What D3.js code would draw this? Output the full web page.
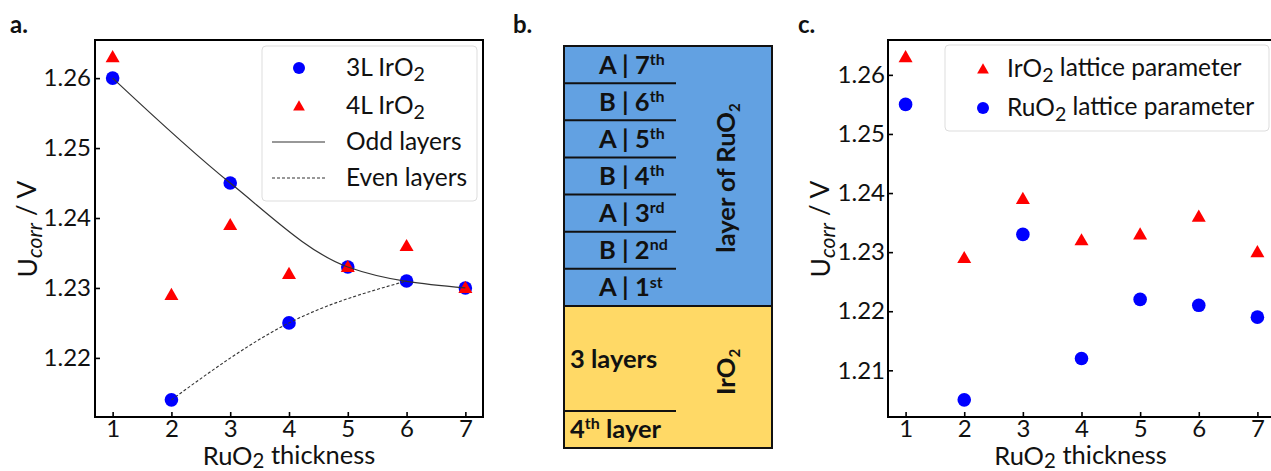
<!DOCTYPE html>
<html>
<head>
<meta charset="utf-8">
<script src="https://cdn.jsdelivr.net/npm/d3@7"></script>
<style>
  body { margin: 0; background: #fff; }
  svg { font-family: Lato, "Open Sans", sans-serif; }
</style>
</head>
<body>
<div id="chart"></div>
<script>
// Data
const thickness = [1, 2, 3, 4, 5, 6, 7];
const ir3L = [1.260, 1.214, 1.245, 1.225, 1.233, 1.231, 1.230];
const ir4L = [1.263, 1.229, 1.239, 1.232, 1.233, 1.236, 1.230];
const irLattice = [1.263, 1.229, 1.239, 1.232, 1.233, 1.236, 1.230];
const ruLattice = [1.255, 1.205, 1.233, 1.212, 1.222, 1.221, 1.219];
const yTicksA = [1.22, 1.23, 1.24, 1.25, 1.26];
const yTicksC = [1.21, 1.22, 1.23, 1.24, 1.25, 1.26];
const ruLayers = [["A", "7", "th"], ["B", "6", "th"], ["A", "5", "th"], ["B", "4", "th"],
                  ["A", "3", "rd"], ["B", "2", "nd"], ["A", "1", "st"]];

const W = 1271, H = 471;
const svg = d3.select("#chart").append("svg")
    .attr("width", W).attr("height", H);

const BLUE = "#0000ff", RED = "#ff0000";
const TICK_FS = 24, LABEL_FS = 25.5, LEG_FS = 24.5, B_FS = 25.5;

// text with a subscript "2" (matplotlib mathtext style)
function subText(sel, parts) {
    parts.forEach(p => {
        const t = sel.append("tspan").text(p.t);
        if (p.sub) t.attr("font-size", p.size || "0.8em").attr("dy", p.dy || "0.25em");
        if (p.back) t.attr("dy", p.back);
        if (p.italic) t.attr("font-style", "italic");
    });
}

// set up an axes panel (a or c)
function panel(xRange, yDomain, yTicks, opts) {
    const x = d3.scaleLinear().domain([0.7, 7.3]).range(xRange);
    const y = d3.scaleLinear().domain(yDomain).range([417, 40]);
    const g = svg.append("g");

    g.append("g")
        .attr("transform", "translate(0,417)")
        .call(d3.axisBottom(x).tickValues(thickness).tickFormat(d3.format("d"))
            .tickSizeInner(-5).tickSizeOuter(0).tickPadding(3))
        .call(a => a.select(".domain").remove())
        .call(a => a.selectAll("line").attr("stroke-width", 1.6))
        .call(a => a.selectAll("text").attr("font-size", TICK_FS).attr("fill", "#111").attr("font-family", "Lato"));

    g.append("g")
        .attr("transform", `translate(${xRange[0]},0)`)
        .call(d3.axisLeft(y).tickValues(yTicks).tickFormat(d3.format(".2f"))
            .tickSizeInner(-5).tickSizeOuter(0).tickPadding(opts.yPad))
        .call(a => a.select(".domain").remove())
        .call(a => a.selectAll("line").attr("stroke-width", 1.6))
        .call(a => a.selectAll("text").attr("font-size", TICK_FS).attr("fill", "#111").attr("font-family", "Lato"));

    // frame
    const x0 = xRange[0], x1 = xRange[1];
    g.append("path")
        .attr("d", opts.closed
            ? `M${x0},40H${x1}V417H${x0}Z`
            : `M${x1},40H${x0}V417H${x1}`)
        .attr("fill", "none").attr("stroke", "#000").attr("stroke-width", 2);

    // axis labels
    const xl = g.append("text")
        .attr("x", (x0 + Math.min(x1, W)) / 2 + opts.xLabelShift).attr("y", 465)
        .attr("text-anchor", "middle").attr("font-size", LABEL_FS).attr("fill", "#111");
    subText(xl, [{ t: "RuO" }, { t: "2", sub: true, dy: "0.16em" }, { t: " thickness", back: "-0.16em" }]);

    const yl = g.append("text")
        .attr("transform", `translate(${opts.yLabelX},229) rotate(-90)`)
        .attr("text-anchor", "middle").attr("font-size", 26.5).attr("fill", "#111");
    subText(yl, [{ t: "U" }, { t: "corr", sub: true, italic: true }, { t: " / V", back: "-0.25em" }]);

    return { g, x, y };
}

// ---------- panel a ----------
const A = panel([95, 483], [1.21155, 1.26545], yTicksA, { closed: true, yPad: 4, yLabelX: 37, xLabelShift: 0 });

const dotsA = thickness.map((t, i) => ({ t, v: ir3L[i] }));
const triA = thickness.map((t, i) => ({ t, v: ir4L[i] }));

A.g.selectAll("circle.d").data(dotsA).enter().append("circle")
    .attr("cx", d => A.x(d.t)).attr("cy", d => A.y(d.v)).attr("r", 6.8).attr("fill", BLUE);
A.g.selectAll("path.tri").data(triA).enter().append("path")
    .attr("d", d3.symbol(d3.symbolTriangle, 85))
    .attr("transform", d => `translate(${A.x(d.t)},${A.y(d.v) + 1})`)
    .attr("fill", RED);

const lineA = d3.line().x(d => A.x(d.t)).y(d => A.y(d.v)).curve(d3.curveMonotoneX);
A.g.append("path").datum(dotsA.filter(d => d.t % 2 === 1))
    .attr("d", lineA).attr("fill", "none").attr("stroke", "#333").attr("stroke-width", 1.2);
A.g.append("path").datum(dotsA.filter(d => d.t % 2 === 0))
    .attr("d", lineA).attr("fill", "none").attr("stroke", "#333").attr("stroke-width", 1.1)
    .attr("stroke-dasharray", "3,2");

// legend a
const legA = A.g.append("g");
legA.append("rect").attr("x", 262).attr("y", 46).attr("width", 215).attr("height", 155)
    .attr("rx", 4).attr("fill", "#fff").attr("fill-opacity", 0.85).attr("stroke", "#ddd");
const legRowsA = [68, 106, 142, 178];
legA.append("circle").attr("cx", 299).attr("cy", legRowsA[0]).attr("r", 6).attr("fill", BLUE);
legA.append("path").attr("d", d3.symbol(d3.symbolTriangle, 60))
    .attr("transform", `translate(299,${legRowsA[1] + 1})`).attr("fill", RED);
legA.append("line").attr("x1", 272).attr("x2", 325).attr("y1", legRowsA[2]).attr("y2", legRowsA[2])
    .attr("stroke", "#333").attr("stroke-width", 1.2);
legA.append("line").attr("x1", 272).attr("x2", 325).attr("y1", legRowsA[3]).attr("y2", legRowsA[3])
    .attr("stroke", "#333").attr("stroke-width", 1.1).attr("stroke-dasharray", "3,2");
const legTextsA = [
    [{ t: "3L IrO" }, { t: "2", sub: true }],
    [{ t: "4L IrO" }, { t: "2", sub: true }],
    [{ t: "Odd layers" }],
    [{ t: "Even layers" }]
];
legTextsA.forEach((parts, i) => {
    const t = legA.append("text").attr("x", 346).attr("y", legRowsA[i] + 8)
        .attr("font-size", LEG_FS).attr("fill", "#111");
    subText(t, parts);
});

// ---------- panel c ----------
const C = panel([888, 1275], [1.2021, 1.2659], yTicksC, { closed: false, yPad: 3, yLabelX: 830, xLabelShift: 1 });

const triC = thickness.map((t, i) => ({ t, v: irLattice[i] }));
const dotsC = thickness.map((t, i) => ({ t, v: ruLattice[i] }));

C.g.selectAll("path.tri").data(triC).enter().append("path")
    .attr("d", d3.symbol(d3.symbolTriangle, 85))
    .attr("transform", d => `translate(${C.x(d.t)},${C.y(d.v) + 1})`)
    .attr("fill", RED);
C.g.selectAll("circle.d").data(dotsC).enter().append("circle")
    .attr("cx", d => C.x(d.t)).attr("cy", d => C.y(d.v)).attr("r", 6.8).attr("fill", BLUE);

const legC = C.g.append("g");
legC.append("rect").attr("x", 945).attr("y", 45).attr("width", 324).attr("height", 86)
    .attr("rx", 4).attr("fill", "#fff").attr("fill-opacity", 0.85).attr("stroke", "#ddd");
legC.append("path").attr("d", d3.symbol(d3.symbolTriangle, 60))
    .attr("transform", "translate(983,70)").attr("fill", RED);
legC.append("circle").attr("cx", 983).attr("cy", 108).attr("r", 6).attr("fill", BLUE);
[[{ t: "IrO" }, { t: "2", sub: true }, { t: " lattice parameter", back: "-0.25em" }],
 [{ t: "RuO" }, { t: "2", sub: true }, { t: " lattice parameter", back: "-0.25em" }]]
    .forEach((parts, i) => {
        const t = legC.append("text").attr("x", 1007).attr("y", [69, 108][i] + 8)
            .attr("font-size", LEG_FS).attr("fill", "#111");
        subText(t, parts);
    });

// ---------- panel b (layer stack) ----------
const B = svg.append("g");
const bx0 = 564, bx1 = 772, bTop = 46, bMid = 306, bBot = 448;
const rowY = d3.scaleBand().domain(d3.range(ruLayers.length)).range([bTop, bMid]);

B.append("rect").attr("x", bx0).attr("y", bTop).attr("width", bx1 - bx0).attr("height", bMid - bTop)
    .attr("fill", "#62a1e2");
B.append("rect").attr("x", bx0).attr("y", bMid).attr("width", bx1 - bx0).attr("height", bBot - bMid)
    .attr("fill", "#ffd966");

ruLayers.forEach((d, i) => {
    if (i > 0) {
        B.append("line").attr("x1", bx0).attr("x2", 676)
            .attr("y1", rowY(i)).attr("y2", rowY(i)).attr("stroke", "#111").attr("stroke-width", 2);
    }
    const t = B.append("text").attr("x", 599).attr("y", rowY(i) + rowY.bandwidth() / 2 + 9)
        .attr("font-size", B_FS).attr("font-weight", "bold").attr("fill", "#111");
    t.append("tspan").text(`${d[0]} | ${d[1]}`);
    t.append("tspan").text(d[2]).attr("font-size", 16).attr("dy", "-0.55em");
});
B.append("line").attr("x1", bx0).attr("x2", 676).attr("y1", 411).attr("y2", 411)
    .attr("stroke", "#111").attr("stroke-width", 2);
B.append("line").attr("x1", bx0).attr("x2", bx1).attr("y1", bMid).attr("y2", bMid)
    .attr("stroke", "#111").attr("stroke-width", 2);
B.append("rect").attr("x", bx0).attr("y", bTop).attr("width", bx1 - bx0).attr("height", bBot - bTop)
    .attr("fill", "none").attr("stroke", "#111").attr("stroke-width", 2);

B.append("text").attr("x", 570).attr("y", 368).attr("font-size", B_FS).attr("font-weight", "bold")
    .attr("fill", "#111").text("3 layers");
const l4 = B.append("text").attr("x", 570).attr("y", 438).attr("font-size", B_FS).attr("font-weight", "bold")
    .attr("fill", "#111");
l4.append("tspan").text("4");
l4.append("tspan").text("th").attr("font-size", 16).attr("dy", "-0.55em");
l4.append("tspan").text(" layer").attr("dy", "0.35em");

const rl = B.append("text").attr("transform", "translate(735,178) rotate(-90)")
    .attr("text-anchor", "middle").attr("font-size", B_FS).attr("font-weight", "bold").attr("fill", "#111");
rl.append("tspan").text("layer of RuO");
rl.append("tspan").text("2").attr("font-size", 15).attr("dy", "0.3em");

const ir = B.append("text").attr("transform", "translate(735,372) rotate(-90)")
    .attr("text-anchor", "middle").attr("font-size", B_FS).attr("font-weight", "bold").attr("fill", "#111");
ir.append("tspan").text("IrO");
ir.append("tspan").text("2").attr("font-size", 15).attr("dy", "0.3em");

// panel letters
[["a.", 10], ["b.", 513], ["c.", 798]].forEach(([s, x]) => {
    svg.append("text").attr("x", x).attr("y", 33).attr("font-size", 24).attr("font-weight", "bold")
        .attr("fill", "#111").text(s);
});
</script>
</body>
</html>
